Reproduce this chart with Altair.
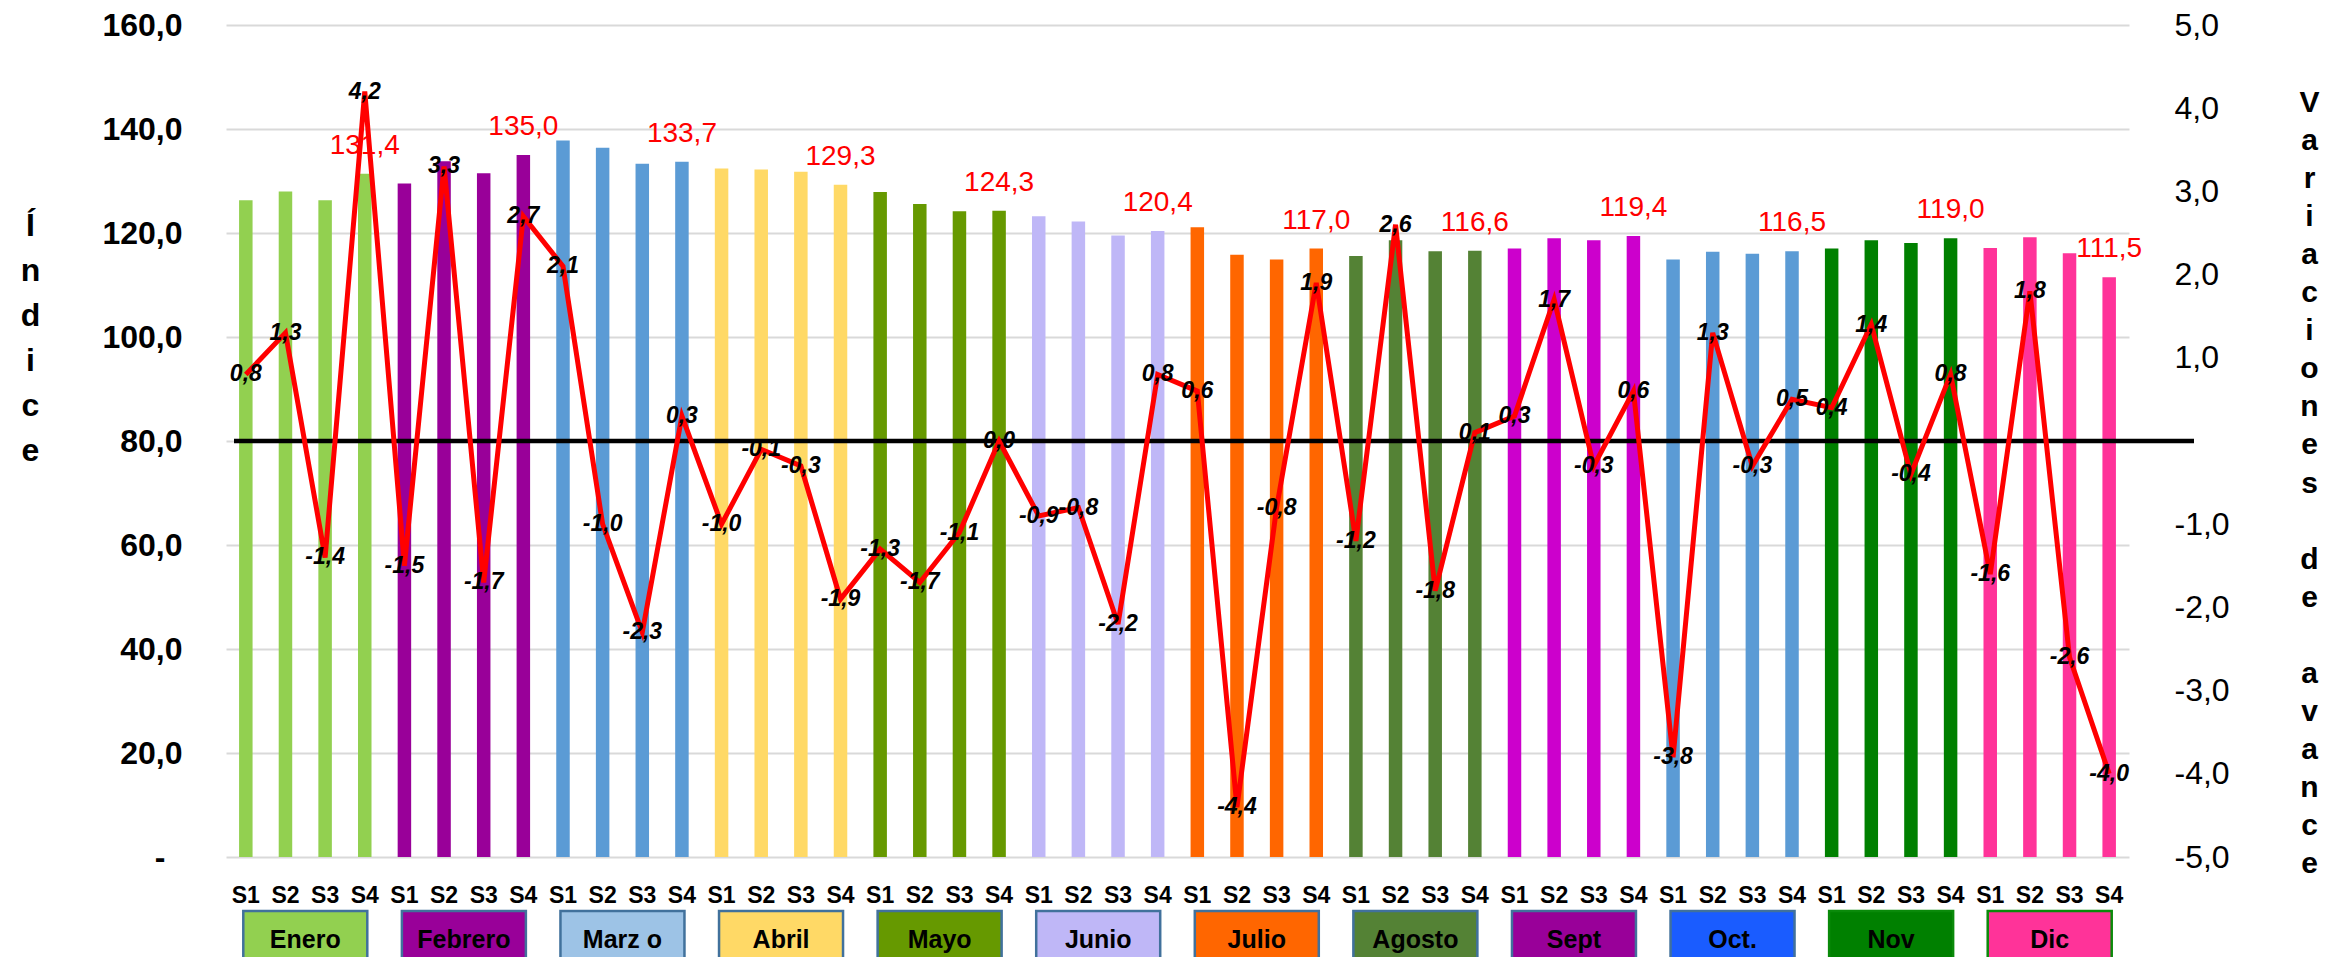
import altair as alt
import pandas as pd

FONT = "Liberation Sans"

months = ["Enero", "Febrero", "Marzo", "Abril", "Mayo", "Junio",
          "Julio", "Agosto", "Septiembre", "Octubre", "Noviembre", "Diciembre"]
box_labels = ["Enero", "Febrero", "Marz o", "Abril", "Mayo", "Junio",
              "Julio", "Agosto", "Sept", "Oct.", "Nov", "Dic"]
weeks = ["S1", "S2", "S3", "S4"]

index_values = [
    126.3, 128.0, 126.3, 131.4,
    129.5, 133.8, 131.5, 135.0,
    137.8, 136.4, 133.3, 133.7,
    132.4, 132.2, 131.8, 129.3,
    127.9, 125.6, 124.2, 124.3,
    123.2, 122.2, 119.5, 120.4,
    121.1, 115.8, 114.9, 117.0,
    115.6, 118.6, 116.5, 116.6,
    117.0, 119.0, 118.6, 119.4,
    114.9, 116.4, 116.0, 116.5,
    117.0, 118.6, 118.1, 119.0,
    117.1, 119.2, 116.1, 111.5,
]
variation_values = [
    0.8, 1.3, -1.4, 4.2,
    -1.5, 3.3, -1.7, 2.7,
    2.1, -1.0, -2.3, 0.3,
    -1.0, -0.1, -0.3, -1.9,
    -1.3, -1.7, -1.1, 0.0,
    -0.9, -0.8, -2.2, 0.8,
    0.6, -4.4, -0.8, 1.9,
    -1.2, 2.6, -1.8, 0.1,
    0.3, 1.7, -0.3, 0.6,
    -3.8, 1.3, -0.3, 0.5,
    0.4, 1.4, -0.4, 0.8,
    -1.6, 1.8, -2.6, -4.0,
]
bar_colors = ["#92D050", "#990099", "#5B9BD5", "#FFD966", "#669900", "#BFB7F7",
              "#FF6600", "#548235", "#CC00CC", "#5B9BD5", "#008000", "#FF3399"]
box_fill = ["#92D050", "#990099", "#9DC3E6", "#FFD966", "#669900", "#BFB7F7",
            "#FF6600", "#548235", "#990099", "#1A5CFF", "#008000", "#FF3399"]
box_stroke = ["#41719C", "#41719C", "#41719C", "#41719C", "#41719C", "#41719C",
              "#41719C", "#41719C", "#41719C", "#41719C", "#0A8A0A", "#0A8A0A"]

def fmt(v):
    return f"{v:.1f}".replace(".", ",")

keys = [f"{i:02d}|{w}" for i in range(len(months)) for w in weeks]
df = pd.DataFrame({
    "key": keys,
    "month": [m for m in months for _ in weeks],
    "week": [w for _ in months for w in weeks],
    "index": index_values,
    "var": variation_values,
})
df["ilbl"] = df["index"].map(fmt)
df["vlbl"] = df["var"].map(fmt)
df_s4 = df[df["week"] == "S4"]

df_box = pd.DataFrame({
    "key": [f"{i:02d}|S2" for i in range(len(months))],
    "label": box_labels,
})
df_zero = pd.DataFrame({"var": [0.0]})

W, H = 1903, 832
TOP = 17

xscale = alt.Scale(domain=keys, paddingInner=0, paddingOuter=0)
x_axis = alt.Axis(title=None, labelExpr="substring(datum.label, 3)", labelFont=FONT,
                  labelFontSize=23, labelFontWeight="bold", labelColor="black",
                  ticks=False, domain=False, labelPadding=27, labelAngle=0)
x_main = alt.X("key:N", scale=xscale, axis=x_axis)
x_box = alt.X("key:N", scale=xscale, axis=x_axis, bandPosition=1)

lscale = alt.Scale(domain=[0, 160], nice=False, zero=True)
rscale = alt.Scale(domain=[-5, 5], nice=False, zero=False)

left_axis = alt.Axis(
    orient="left",
    values=list(range(0, 161, 20)),
    labelExpr="datum.value == 0 ? '-' : replace(format(datum.value, '.1f'), '.', ',')",
    grid=True, gridColor="#D9D9D9", gridWidth=2, domain=False, ticks=False,
    labelPadding={"condition": {"test": "datum.value == 0", "value": 61}, "value": 44},
    labelFont=FONT, labelFontSize=32, labelFontWeight="bold", labelColor="black",
    title=["Í", "n", "d", "i", "c", "e"], titleAngle=0, titleX=-196, titleY=210,
    titleAlign="center", titleBaseline="alphabetic", titleLineHeight=45,
    titleFont=FONT, titleFontSize=32, titleFontWeight="bold", titleColor="black",
)
BL = "\u200b"
right_title = ["V", "a", "r", "i", "a", "c", "i", "o", "n", "e", "s", BL,
               "d", "e", BL, "a", "v", "a", "n", "c", "e"]
right_axis = alt.Axis(
    orient="right", values=list(range(-5, 6)),
    labelExpr="datum.value == 0 ? '' : replace(replace(format(datum.value, '.1f'), '.', ','), '\u2212', '-')",
    grid=False, domain=False, ticks=False, labelPadding=45, labelAlign="left",
    labelFont=FONT, labelFontSize=32, labelFontWeight="normal", labelColor="black",
    title=right_title, titleAngle=0, titleX=180, titleY=86, titleAlign="center",
    titleBaseline="alphabetic", titleLineHeight=38.1, titleFont=FONT,
    titleFontSize=30, titleFontWeight="bold", titleColor="black",
)

bars = alt.Chart(df).mark_bar(width=13.5).encode(
    x=x_main,
    y=alt.Y("index:Q", scale=lscale, axis=left_axis),
    color=alt.Color("month:N", scale=alt.Scale(domain=months, range=bar_colors), legend=None),
)
end_labels = alt.Chart(df_s4).mark_text(
    color="#FF0000", font=FONT, fontSize=28, dy=-20, baseline="alphabetic", align="center"
).encode(
    x=x_main,
    y=alt.Y("index:Q", scale=lscale, axis=None),
    text="ilbl:N",
)
box_path = "M-1,-0.4032L1,-0.4032L1,0.4032L-1,0.4032Z"
boxes = alt.Chart(df_box).mark_point(
    shape=box_path, size=124 * 124, filled=True, opacity=1, strokeWidth=2.5
).encode(
    x=x_box,
    y=alt.value(936 - 8 - TOP),
    fill=alt.Fill("label:N", scale=alt.Scale(domain=box_labels, range=box_fill), legend=None),
    stroke=alt.Stroke("label:N", scale=alt.Scale(domain=box_labels, range=box_stroke), legend=None),
)
box_text = alt.Chart(df_box).mark_text(
    font=FONT, fontSize=25, fontWeight="bold", color="black", baseline="middle", align="center"
).encode(
    x=x_box,
    y=alt.value(940 - 8 - TOP),
    text="label:N",
)
zero_rule = alt.Chart(df_zero).mark_rule(color="black", strokeWidth=4.5).encode(
    y=alt.Y("var:Q", scale=rscale, axis=None),
    x=alt.value(8), x2=alt.value(W + 65),
)
line = alt.Chart(df).mark_line(color="#FF0000", strokeWidth=5).encode(
    x=x_main,
    y=alt.Y("var:Q", scale=rscale, axis=right_axis),
)
var_labels = alt.Chart(df).mark_text(
    font=FONT, fontSize=23, fontWeight="bold", fontStyle="italic", color="black",
    baseline="middle", align="center"
).encode(
    x=x_main,
    y=alt.Y("var:Q", scale=rscale, axis=None),
    text="vlbl:N",
)

chart = alt.layer(bars, end_labels, boxes, box_text, zero_rule, line, var_labels).resolve_scale(
    y="independent"
).properties(
    width=W, height=H,
    padding={"left": 218, "top": TOP, "right": 193, "bottom": 100},
    autosize=alt.AutoSizeParams(type="none"),
    background="white",
).configure_view(stroke=None)

chart.save("out.html", embed_options={"renderer": "svg", "actions": False})
